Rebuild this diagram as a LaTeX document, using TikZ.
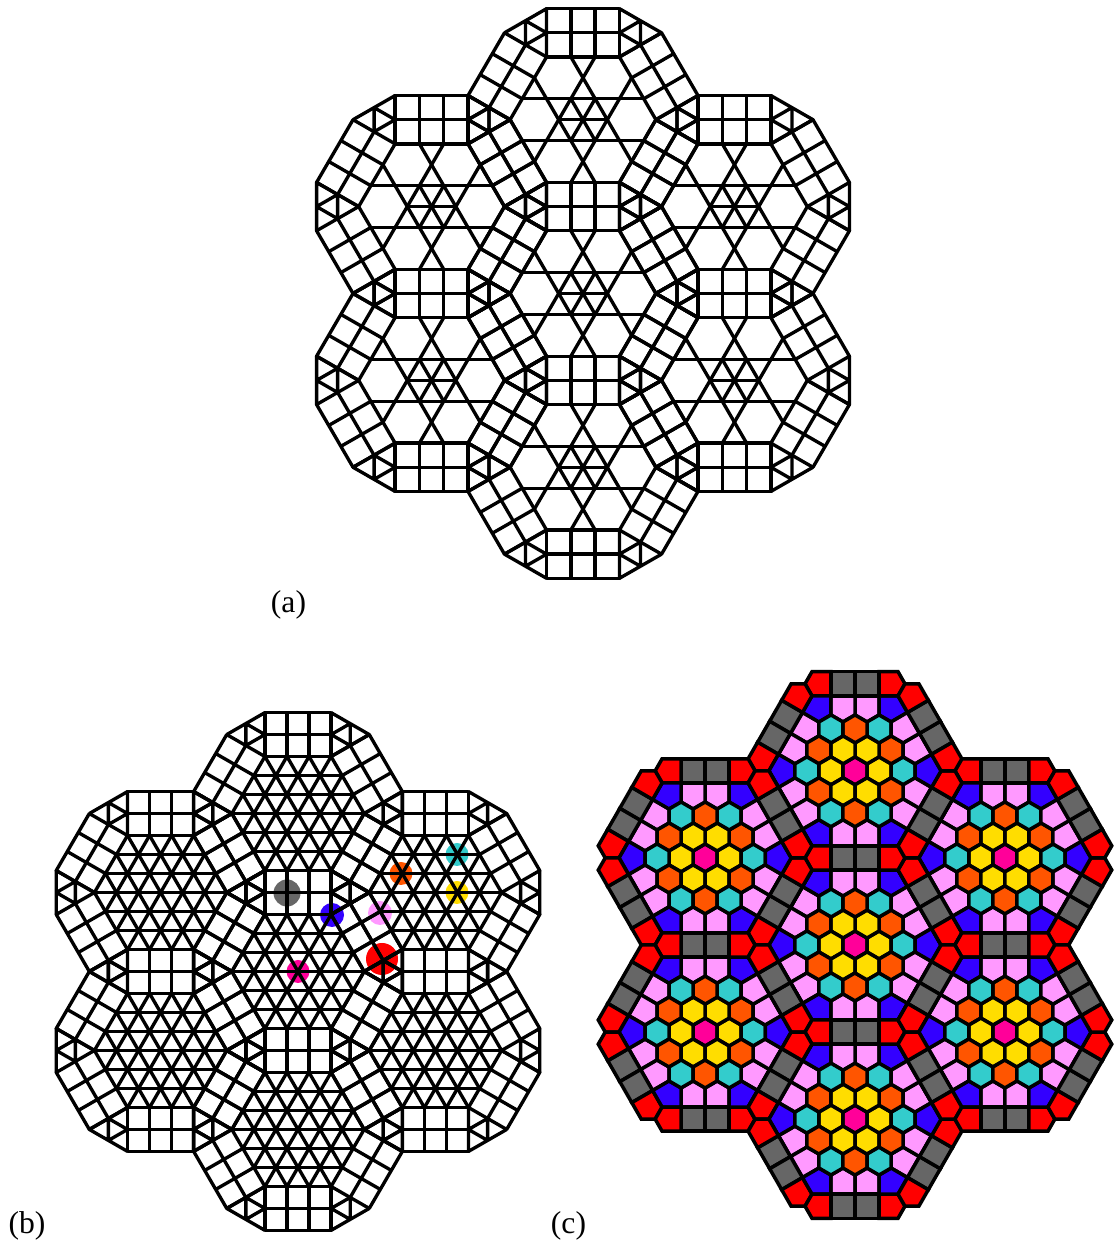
\documentclass[tikz,border=0pt]{standalone}
\usepackage{fontspec}
\setmainfont{Liberation Serif}
\usepackage{xcolor}
\definecolor{tilecentre}{RGB}{255,0,153}
\definecolor{tileyellow}{RGB}{255,221,0}
\definecolor{tileorange}{RGB}{255,85,0}
\definecolor{tilecyan}{RGB}{51,204,204}
\definecolor{tileblue}{RGB}{51,0,255}
\definecolor{tilepink}{RGB}{255,153,255}
\definecolor{tilegrey}{RGB}{102,102,102}
\definecolor{tilered}{RGB}{255,0,0}
\newcommand{\cellcentres}{0/0,7.196/30,7.196/90,7.196/150,7.196/210,7.196/270,7.196/330}
\newcommand{\hexface}[3]{\draw[tile,fill=#3,shift={(#1,#2)}] (30:.577) -- (90:.577) -- (150:.577) -- (210:.577) -- (270:.577) -- (330:.577) -- cycle;}
% squares and corner triangles of every cell, #1 is the inside of the hexagon
\newcommand{\latticenet}[1]{%
  \foreach \r/\t in \cellcentres {
    \foreach \k in {0,60,...,300} {
      \begin{scope}[shift={(\t:\r)},rotate=\k]
        \draw[net] (-1.5,2.598) rectangle (1.5,4.598);
        \draw[net] (-.5,2.598) -- (-.5,4.598) (.5,2.598) -- (.5,4.598) (-1.5,3.598) -- (1.5,3.598);
        \draw[net] (1.5,2.598) -- (2.366,3.098) -- (1.5,3.598) -- (2.366,4.098) -- (2.366,3.098) -- (3.232,3.598) -- (2.366,4.098) -- (1.5,4.598);
        \draw[net] #1;
      \end{scope}
    }
  }%
}
\begin{document}
\begin{tikzpicture}[x=0.02cm,y=0.02cm,
    net/.style={line width=0.067cm,line join=round},
    tile/.style={draw=black,line width=0.07cm},
    every node/.style={font=\fontsize{18}{21}\selectfont}]
  \useasboundingbox (0,0) rectangle (1115,1240);

  % Panel a
  \begin{scope}[shift={(583,946.5)},xscale=24.3,yscale=24.15]
    \latticenet{(-2.5,.866) -- (2.5,.866) (0,0) -- (1,0)}
  \end{scope}
  \node (labela) at (288.5,635.5) {(a)};

  % Panel b
  \fill[tilegrey] (287,347) circle (13.5);
  \fill[tileblue] (332,325) circle (12);
  \fill[tilepink] (380,327) circle (12);
  \fill[tileorange] (401,366.5) circle (11.5);
  \fill[tilecyan] (457,385.5) circle (11.5);
  \fill[tileyellow] (457,347.5) circle (11.5);
  \fill[tilered] (382,281) circle (16);
  \fill[tilecentre] (298,268.5) circle (11.5);
  \begin{scope}[shift={(298,268.5)},xscale=22.05,yscale=21.95]
    \latticenet{(-2,1.732) -- (2,1.732) (-2.5,.866) -- (2.5,.866) (0,0) -- (3,0)}
  \end{scope}
  \node (labelb) at (27,14.5) {(b)};

  % Panel c
  \begin{scope}[shift={(855,295)},xscale=24.05,yscale=24.2]
    \foreach \r/\t in \cellcentres {
      \begin{scope}[shift={(\t:\r)}]
        \hexface{0}{0}{tilecentre}
        \foreach \k in {0,60,...,300} {
          \begin{scope}[rotate=\k]
            \hexface{1}{0}{tileyellow}
            \hexface{2}{0}{tilecyan}
            \hexface{1.5}{.866}{tileorange}
            % Row next to the hexagon edge
            \draw[tile,fill=tilepink] (0,3.098) -- (1,3.098) -- (1,2.309) -- (.5,2.021) -- (0,2.309) -- cycle;
            \draw[tile,fill=tilepink] (0,3.098) -- (-1,3.098) -- (-1,2.309) -- (-.5,2.021) -- (0,2.309) -- cycle;
            \draw[tile,fill=tileblue] (1,3.098) -- (1.789,3.098) -- (2.183,2.415) -- (1.5,2.021) -- (1,2.309) -- cycle;
            % Shared row
            \draw[tile,fill=tilegrey] (0,3.098) rectangle (1,4.098);
            \draw[tile,fill=tilegrey] (-1,3.098) rectangle (0,4.098);
            \draw[tile,fill=tilered] (1,3.098) -- (1.789,3.098) -- (2.077,3.598) -- (1.789,4.098) -- (1,4.098) -- cycle;
            \draw[tile,fill=tilered] (-1,3.098) -- (-1.789,3.098) -- (-2.077,3.598) -- (-1.789,4.098) -- (-1,4.098) -- cycle;
          \end{scope}
        }
      \end{scope}
    }
  \end{scope}
  \node (labelc) at (568.5,14.5) {(c)};
\end{tikzpicture}
\end{document}
